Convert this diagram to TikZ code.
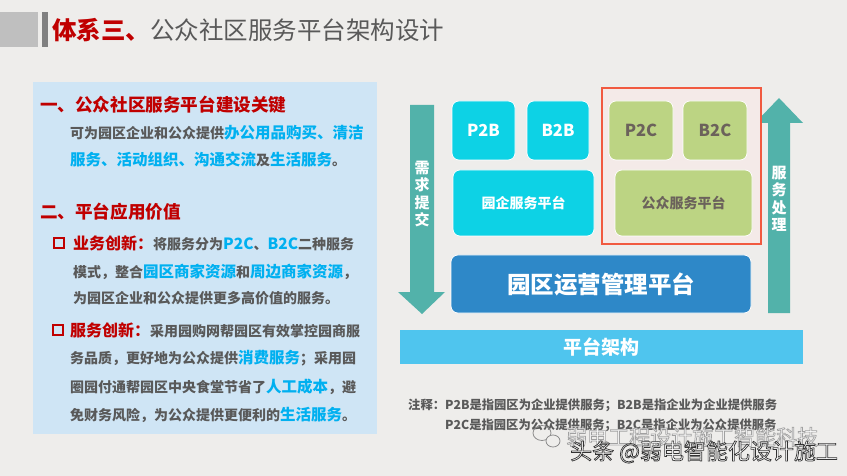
\documentclass[tikz,border=0pt]{standalone}
\usepackage{fontspec}
\setmainfont{Noto Sans CJK SC}
\usetikzlibrary{positioning}

\definecolor{bgpaper}{HTML}{EEEDEB}
\definecolor{panelblue}{HTML}{CFE5F5}
\definecolor{arrowteal}{HTML}{52B2AA}
\definecolor{tilecyan}{HTML}{0DD2E5}
\definecolor{tilegreen}{HTML}{BCD483}
\definecolor{greentext}{HTML}{6B625B}
\definecolor{opsblue}{HTML}{2E88C8}
\definecolor{barblue}{HTML}{4FC5EE}
\definecolor{framered}{HTML}{F15A40}
\definecolor{framefill}{HTML}{F4EAE8}
\definecolor{hdred}{HTML}{C00000}
\definecolor{txtgray}{HTML}{595959}
\definecolor{hlblue}{HTML}{00B0F0}

\newcommand{\hl}[1]{{\color{hlblue}\fontsize{15.5}{18}\selectfont #1}}
\newcommand{\rd}[1]{{\color{hdred}\fontsize{16}{18}\selectfont #1}}
% chữ trắng viền xám (hình mờ)
\newcommand{\outl}[2]{{\color{white}\special{pdf:literal direct #1 G 0.7 w 2 Tr}#2\special{pdf:literal direct 0 Tr}}}

\begin{document}
\begin{tikzpicture}[x=1pt,y=-1pt]
    % Khung trang
    \useasboundingbox (0,0) rectangle (847,476);
    \fill[bgpaper] (0,0) rectangle (847,476);

    % Kiểu dáng
    \tikzset{
        tile/.style={rounded corners=7pt, draw=white, line width=0.7pt, inner sep=0pt,
            font=\fontsize{16.5}{18}\selectfont\bfseries},
        t_cyan/.style={tile, fill=tilecyan, text=white},
        t_green/.style={tile, fill=tilegreen, text=greentext},
        headtxt/.style={anchor=west, inner sep=0pt, text=hdred,
            font=\fontsize{17.6}{20}\selectfont\bfseries},
        bodytxt/.style={anchor=west, inner sep=0pt, text=txtgray,
            font=\fontsize{14}{17}\selectfont\bfseries},
        notetxt/.style={anchor=west, inner sep=0pt, text=txtgray,
            font=\fontsize{12.3}{14}\selectfont\bfseries},
        bullet_sq/.style={draw=hdred, line width=1.6pt},
        arrowtxt/.style={align=center, inner sep=0pt, text=white,
            font=\fontsize{15}{17.5}\selectfont\bfseries}
    }

    % Tiêu đề
    \fill[black!25] (0,12) rectangle (38,47);
    \fill[black!50] (42,12) rectangle (48,47);
    \node[anchor=west, inner sep=0pt, font=\fontsize{24.5}{28}\selectfont] (title) at (52,30)
        {{\bfseries\color{hdred}体系三、}{\color{txtgray}公众社区服务平台架构设计}};

    % Khung bên trái
    \fill[panelblue] (33,82) rectangle (377,434);
    \node[headtxt] (k1) at (40,105) {一、公众社区服务平台建设关键};
    \node[bodytxt] (b1) at (70,133) {可为园区企业和公众提供\hl{办公用品购买、清洁}};
    \node[bodytxt] (b2) at (70,160) {\hl{服务、活动组织、沟通交流}及\hl{生活服务}。};

    \node[headtxt] (k2) at (40,212) {二、平台应用价值};
    \draw[bullet_sq] (54,238) rectangle (64,248);
    \node[bodytxt] (s1) at (73,243) {\rd{业务创新：}将服务分为\hl{P2C}、\hl{B2C}二种服务};
    \node[bodytxt] (s2) at (73,272) {模式，整合\hl{园区商家资源}和\hl{周边商家资源}，};
    \node[bodytxt] (s3) at (73,298) {为园区企业和公众提供更多高价值的服务。};

    \draw[bullet_sq] (53,325) rectangle (63,335);
    \node[bodytxt] (t1) at (70,330) {\rd{服务创新：}采用园购网帮园区有效掌控园商服};
    \node[bodytxt] (t2) at (70,358) {务品质，更好地为公众提供\hl{消费服务}；采用园};
    \node[bodytxt] (t3) at (70,387) {圈园付通帮园区中央食堂节省了\hl{人工成本}，避};
    \node[bodytxt] (t4) at (70,415) {免财务风险，为公众提供更便利的\hl{生活服务}。};

    % Mũi tên hai bên
    \fill[arrowteal] (410,105) -- (434,105) -- (434,292) -- (445,292) -- (422,314)
        -- (398,292) -- (410,292) -- cycle;
    \node[arrowtxt] (req) at (422,194) {需\\求\\提\\交};
    \fill[arrowteal] (768,313) -- (790,313) -- (790,123) -- (803,123) -- (779,98)
        -- (755,123) -- (768,123) -- cycle;
    \node[arrowtxt] (proc) at (779,199) {服\\务\\处\\理};

    % Khung đỏ
    \draw[framered, fill=framefill, line width=2.8pt] (602,88) rectangle (761,244);

    % Các ô dịch vụ
    \node[t_cyan, minimum width=63pt, minimum height=59pt] (p2b) at (483.5,130.5) {P2B};
    \node[t_cyan, minimum width=62pt, minimum height=59pt] (b2b) at (558,130.5) {B2B};
    \node[t_cyan, minimum width=141pt, minimum height=66pt,
        font=\fontsize{14}{16}\selectfont\bfseries] (yq) at (523.5,203) {园企服务平台};
    \node[t_green, minimum width=64pt, minimum height=59pt] (p2c) at (641,130.5) {P2C};
    \node[t_green, minimum width=64pt, minimum height=59pt] (b2c) at (715,130.5) {B2C};
    \node[t_green, minimum width=137pt, minimum height=66pt,
        font=\fontsize{14}{16}\selectfont\bfseries] (gz) at (683.5,203) {公众服务平台};
    \node[tile, fill=opsblue, text=white, minimum width=300pt, minimum height=58pt,
        font=\fontsize{23.5}{26}\selectfont\bfseries] (ops) at (601,284) {园区运营管理平台};
    \node[fill=barblue, text=white, inner sep=0pt, minimum width=403pt, minimum height=34pt,
        font=\fontsize{19}{21}\selectfont\bfseries] (arch) at (601.5,347) {平台架构};

    % Chú thích
    \node[notetxt] (n1) at (408,405) {注释：P2B是指园区为企业提供服务；B2B是指企业为企业提供服务};
    \node[notetxt] (n2) at (445,425) {P2C是指园区为公众提供服务；B2C是指企业为公众提供服务};

    % Hình mờ
    \draw[black!45, line width=0.8pt] (542,433) ellipse (9 and 7.5);
    \draw[black!45, line width=0.8pt, fill=bgpaper] (553,441) ellipse (7 and 6);
    \node[anchor=west, inner sep=0pt, opacity=0.8,
        font=\fontsize{21}{24}\selectfont] (wm1) at (566,437) {\outl{0.55}{弱电工程设计施工智能科技}};
    \node[anchor=west, inner sep=0pt,
        font=\fontsize{22}{24}\selectfont] (wm2) at (570,452) {\outl{0.2}{头条 @弱电智能化设计施工}};
\end{tikzpicture}
\end{document}
